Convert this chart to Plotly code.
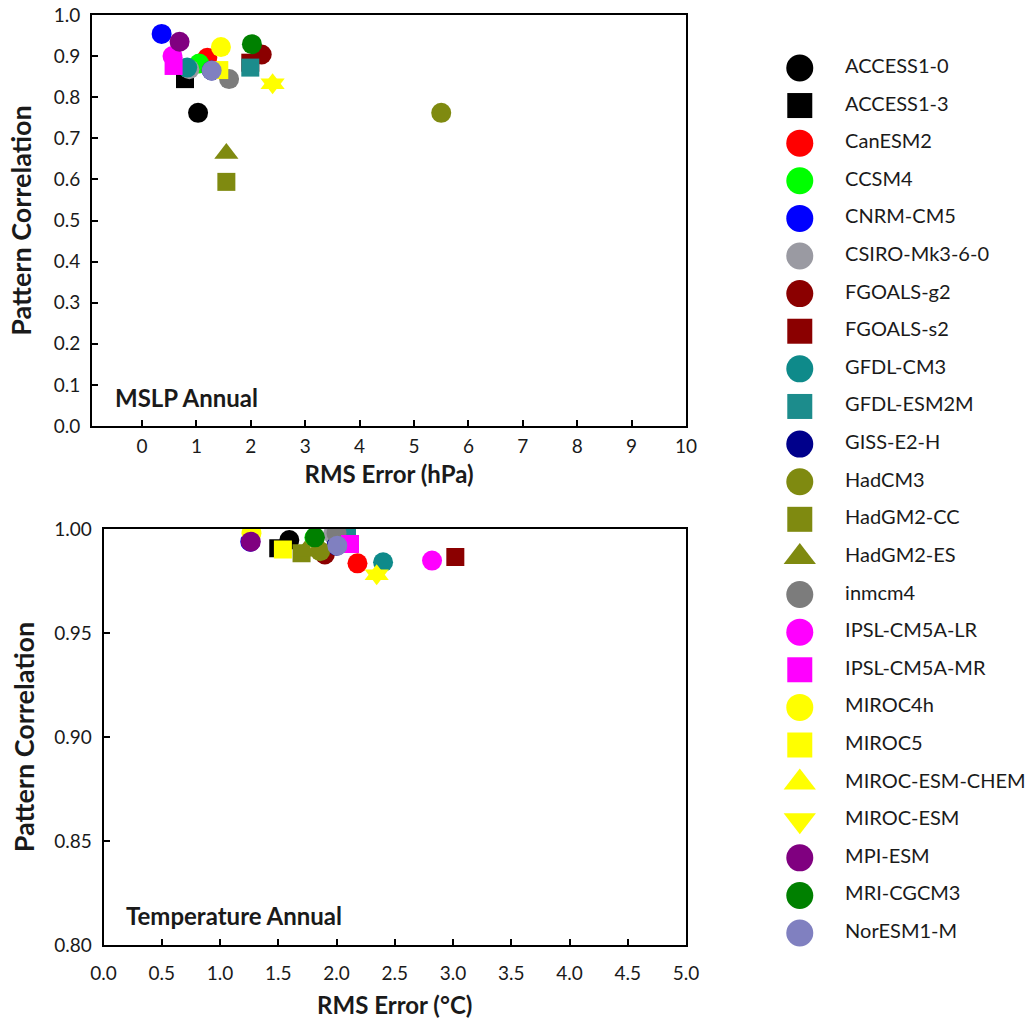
import plotly.graph_objects as go

models = ["ACCESS1-0", "ACCESS1-3", "CanESM2", "CCSM4", "CNRM-CM5", "CSIRO-Mk3-6-0",
          "FGOALS-g2", "FGOALS-s2", "GFDL-CM3", "GFDL-ESM2M", "GISS-E2-H", "HadCM3",
          "HadGM2-CC", "HadGM2-ES", "inmcm4", "IPSL-CM5A-LR", "IPSL-CM5A-MR", "MIROC4h",
          "MIROC5", "MIROC-ESM-CHEM", "MIROC-ESM", "MPI-ESM", "MRI-CGCM3", "NorESM1-M"]

colors = ["#000000", "#000000", "#FF0000", "#00FF00", "#0000FF", "#9A9AA2",
          "#8B0000", "#8B0000", "#0E8A8A", "#1C8C8C", "#00008B", "#7F8A10",
          "#7F8A10", "#7F8A10", "#7C7C7C", "#FF00FF", "#FF00FF", "#FFFF00",
          "#FFFF00", "#FFFF00", "#FFFF00", "#800080", "#008000", "#8080C0"]

symbols = ["circle", "square", "circle", "circle", "circle", "circle",
           "circle", "square", "circle", "square", "circle", "circle",
           "square", "triangle-up", "circle", "circle", "square", "circle",
           "square", "triangle-up", "triangle-down", "circle", "circle", "circle"]

# MSLP annual: RMS error (hPa) and pattern correlation
mslp_rms = [1.03, 0.79, 1.20, 1.05, 0.36, 0.87,
            2.20, 1.99, 0.83, 1.99, 1.28, 5.50,
            1.55, 1.55, 1.60, 0.56, 0.58, 1.45,
            1.42, 2.40, 2.40, 0.69, 2.02, 1.28]
mslp_corr = [0.762, 0.844, 0.896, 0.882, 0.954, 0.868,
             0.904, 0.884, 0.872, 0.872, 0.865, 0.762,
             0.594, 0.663, 0.844, 0.900, 0.876, 0.922,
             0.866, 0.833, 0.833, 0.935, 0.929, 0.865]

# Temperature annual: RMS error (degC) and pattern correlation
temp_rms = [1.595, 1.50, 2.18, 1.81, 1.26, 1.97,
            1.90, 3.02, 2.40, 2.09, 2.00, 1.86,
            1.70, 1.73, 2.00, 2.82, 2.116, 1.27,
            1.54, 2.345, 2.345, 1.264, 1.815, 2.007]
temp_corr = [0.9947, 0.9907, 0.9835, 0.9958, 0.9939, 0.9975,
             0.9878, 0.9865, 0.9840, 0.9965, 0.9920, 0.9893,
             0.9883, 0.9893, 0.9980, 0.9848, 0.9928, 0.9980,
             0.9902, 0.9780, 0.9780, 0.9939, 0.9960, 0.9920]

mslp_xticks = list(range(0, 11))
temp_xticks = [0.0, 0.5, 1.0, 1.5, 2.0, 2.5, 3.0, 3.5, 4.0, 4.5, 5.0]
mslp_yticks = [0.0, 0.1, 0.2, 0.3, 0.4, 0.5, 0.6, 0.7, 0.8, 0.9, 1.0]
temp_yticks = [0.80, 0.85, 0.90, 0.95, 1.00]

W, H = 1029, 1025
FONT = "Lato"
TXT = "#1a1a1a"

def msize(sym, base):
    return {"circle": base, "square": base - 2, "triangle-up": base + 1,
            "triangle-down": base + 1}[sym]

fig = go.Figure()
for i, m in enumerate(models):
    fig.add_trace(go.Scatter(x=[mslp_rms[i]], y=[mslp_corr[i]], mode="markers", name=m,
                             marker=dict(color=colors[i], symbol=symbols[i], size=msize(symbols[i], 20),
                                         opacity=1, line=dict(width=0)),
                             xaxis="x", yaxis="y", showlegend=False))
for i, m in enumerate(models):
    fig.add_trace(go.Scatter(x=[temp_rms[i]], y=[temp_corr[i]], mode="markers", name=m,
                             marker=dict(color=colors[i], symbol=symbols[i], size=msize(symbols[i], 20),
                                         opacity=1, line=dict(width=0)),
                             xaxis="x2", yaxis="y2", showlegend=False))

# legend drawn as a marker column + label column
idx = list(range(len(models)))
fig.add_trace(go.Scatter(x=[0.115] * len(models), y=idx, mode="markers",
                         marker=dict(color=colors, symbol=symbols, opacity=1,
                                     size=[msize(s, 27) for s in symbols], line=dict(width=0)),
                         xaxis="x3", yaxis="y3", showlegend=False, hoverinfo="skip"))
fig.add_trace(go.Scatter(x=[0.29] * len(models), y=idx, mode="text", text=models,
                         textposition="middle right",
                         textfont=dict(family=FONT, size=20, color=TXT),
                         xaxis="x3", yaxis="y3", showlegend=False, hoverinfo="skip"))

axis_common = dict(showgrid=False, zeroline=False, showline=True, linecolor="black", linewidth=2,
                   mirror=True, ticks="inside", ticklen=6, tickwidth=2, tickcolor="black",
                   automargin=False, tickfont=dict(family=FONT, size=19, color=TXT))
title_font = dict(family=FONT, size=24, color=TXT)
ytitle_font = dict(family=FONT, size=27, color=TXT)

fig.update_layout(
    width=W, height=H, margin=dict(l=0, r=0, t=0, b=0, autoexpand=False),
    paper_bgcolor="white", plot_bgcolor="white", showlegend=False,
    xaxis=dict(domain=[92 / W, 686 / W], range=[-0.92, 10], tickvals=mslp_xticks,
               ticklabelstandoff=2,
               title=dict(text="<b>RMS Error (hPa)</b>", font=title_font, standoff=10),
               anchor="y", **axis_common),
    yaxis=dict(domain=[1 - 426 / H, 1 - 15 / H], range=[0, 1], tickvals=mslp_yticks, tickformat=".1f",
               ticklabelstandoff=6,
               title=dict(text="<b>Pattern Correlation</b>", font=ytitle_font, standoff=14),
               anchor="x", **axis_common),
    xaxis2=dict(domain=[103.5 / W, 686 / W], range=[0, 5], tickvals=temp_xticks, tickformat=".1f",
                ticklabelstandoff=10,
                title=dict(text="<b>RMS Error (°C)</b>", font=title_font, standoff=14),
                anchor="y2", **axis_common),
    yaxis2=dict(domain=[1 - 945 / H, 1 - 529 / H], range=[0.80, 1.00], tickvals=temp_yticks, tickformat=".2f",
                ticklabelstandoff=6,
                title=dict(text="<b>Pattern Correlation</b>", font=ytitle_font, standoff=12),
                anchor="x2", **axis_common),
    xaxis3=dict(domain=[770 / W, 1.0], range=[0, 1], visible=False, anchor="y3"),
    yaxis3=dict(domain=[1 - 950 / H, 1 - 51 / H], range=[23.45, -0.45], visible=False, anchor="x3"),
    annotations=[
        dict(text="<b>MSLP Annual</b>", xref="paper", yref="paper", x=113 / W, y=1 - 397 / H,
             xanchor="left", yanchor="middle", showarrow=False,
             font=dict(family=FONT, size=24, color=TXT)),
        dict(text="<b>Temperature Annual</b>", xref="paper", yref="paper", x=124 / W, y=1 - 915 / H,
             xanchor="left", yanchor="middle", showarrow=False,
             font=dict(family=FONT, size=24, color=TXT)),
    ],
)

fig.write_html("out.html")
